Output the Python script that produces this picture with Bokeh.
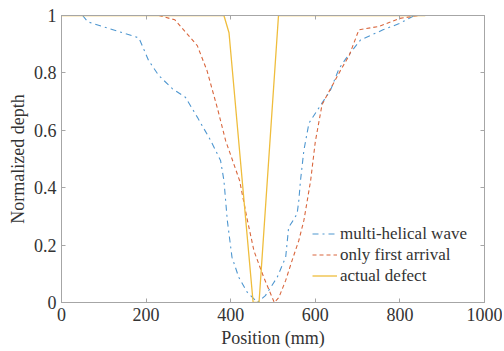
from bokeh.plotting import figure
from bokeh.models import Range1d, FixedTicker, LinearAxis, CustomJSTickFormatter, Legend, LegendItem
from bokeh.embed import file_html
from bokeh.resources import INLINE

# Data
multi_x = [50, 62, 183, 206, 230, 262, 293, 321, 352, 376, 384, 392, 403, 419, 439, 455, 463,
           482, 510, 530, 537, 545, 557, 561, 565, 573, 585, 604, 636, 656, 675, 707, 760, 797, 835]
multi_y = [1.0, 0.978, 0.922, 0.843, 0.791, 0.745, 0.715, 0.646, 0.566, 0.495, 0.425, 0.286, 0.158,
           0.088, 0.036, 0.013, 0.0, 0.024, 0.088, 0.158, 0.262, 0.28, 0.309, 0.355, 0.425, 0.53,
           0.625, 0.668, 0.74, 0.815, 0.855, 0.915, 0.95, 0.971, 1.0]

first_x = [230, 268, 321, 344, 370, 388, 421, 439, 455, 478, 498, 503, 514, 530, 545, 561, 573,
           581, 589, 600, 616, 660, 680, 703, 750, 800, 845]
first_y = [1.0, 0.985, 0.895, 0.808, 0.669, 0.564, 0.425, 0.29, 0.18, 0.088, 0.018, 0.0, 0.018,
           0.077, 0.146, 0.216, 0.286, 0.355, 0.425, 0.56, 0.69, 0.81, 0.86, 0.95, 0.962, 0.99, 1.0]

actual_x = [0, 384, 396, 453, 467, 513, 860]
actual_y = [1.0, 1.0, 0.94, 0.0, 0.0, 1.0, 1.0]

x_ticks = [0, 200, 400, 600, 800, 1000]
y_ticks = [0, 0.2, 0.4, 0.6, 0.8, 1]

FONT = "Liberation Serif"
AXC = "#a6a6a6"
TXT = "#333333"

p = figure(frame_width=423, frame_height=287, output_backend="svg", toolbar_location=None,
           x_range=Range1d(0, 1000), y_range=Range1d(0, 1),
           min_border_left=61, min_border_right=18, min_border_top=15, min_border_bottom=48)
p.background_fill_color = "white"
p.border_fill_color = "white"
p.outline_line_color = AXC
p.xgrid.visible = False
p.ygrid.visible = False

fmt = CustomJSTickFormatter(code="return String(Math.round(tick*10)/10)")

p.xaxis.ticker = FixedTicker(ticks=x_ticks)
p.yaxis.ticker = FixedTicker(ticks=y_ticks)
p.xaxis.axis_label = "Position (mm)"
p.yaxis.axis_label = "Normalized depth"
for axes in (p.xaxis, p.yaxis):
    axes.formatter = fmt
    axes.major_tick_in = 4
    axes.major_tick_out = 0
    axes.minor_tick_in = 0
    axes.minor_tick_out = 0
    axes.axis_line_color = AXC
    axes.major_tick_line_color = AXC
    axes.major_label_text_font = FONT
    axes.major_label_text_font_size = "18px"
    axes.major_label_text_color = TXT
    axes.axis_label_text_font = FONT
    axes.axis_label_text_font_size = "18px"
    axes.axis_label_text_font_style = "normal"
    axes.axis_label_text_color = TXT
    axes.major_label_standoff = 5

p.xaxis.axis_label_standoff = 4
p.yaxis.axis_label_standoff = 3

for loc, ticks in (("above", x_ticks), ("right", y_ticks)):
    ax = LinearAxis(ticker=FixedTicker(ticks=ticks), major_tick_in=4, major_tick_out=0,
                    minor_tick_in=0, minor_tick_out=0, axis_line_color=AXC,
                    major_tick_line_color=AXC, major_label_text_font_size="1px",
                    major_label_text_color=None, major_label_standoff=0)
    p.add_layout(ax, loc)

r1 = p.line(multi_x, multi_y, line_color="#4f97d0", line_width=1.1, line_dash="dashdot")
r2 = p.line(first_x, first_y, line_color="#d9673e", line_width=1.1, line_dash="4 3")
r3 = p.line(actual_x, actual_y, line_color="#efbd3c", line_width=1.3)

legend = Legend(items=[LegendItem(label="multi-helical wave", renderers=[r1]),
                       LegendItem(label="only first arrival", renderers=[r2]),
                       LegendItem(label="actual defect", renderers=[r3])],
                location=(251, 16))
legend.background_fill_alpha = 0
legend.border_line_color = None
legend.padding = 0
legend.margin = 0
legend.spacing = 0
legend.glyph_width = 25
legend.glyph_height = 21
legend.label_height = 21
legend.label_standoff = 3
legend.label_text_font = FONT
legend.label_text_font_size = "17px"
legend.label_text_color = TXT
p.add_layout(legend, "center")

open("out.html", "w").write(file_html(p, INLINE))
